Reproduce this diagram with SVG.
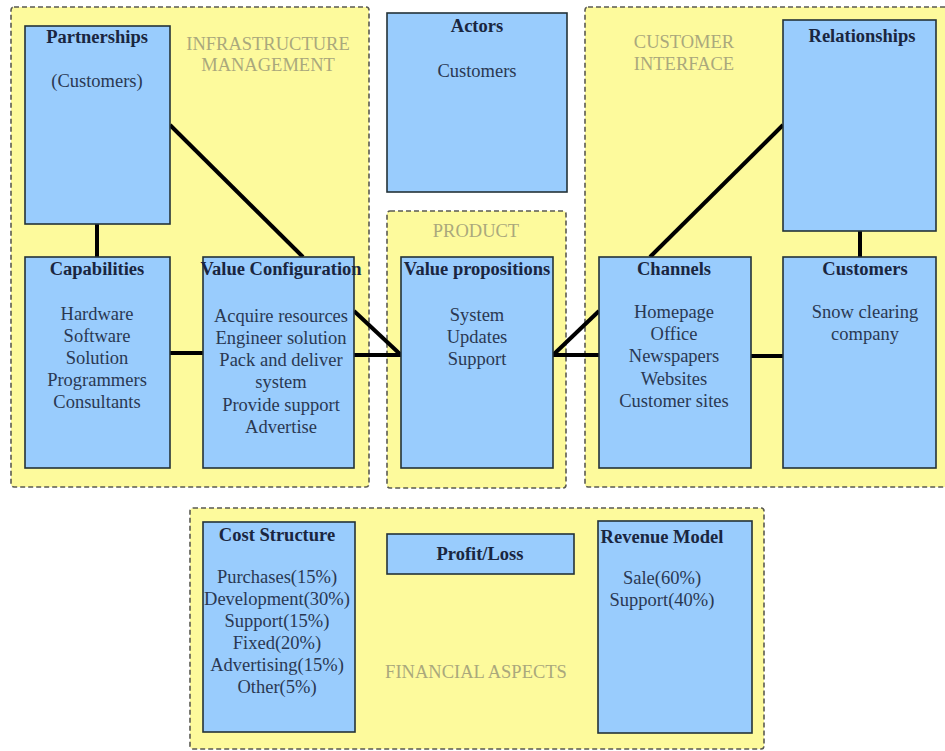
<svg xmlns="http://www.w3.org/2000/svg" width="945" height="751" viewBox="0 0 945 751">
  <style>
    .area { fill: #fdfa9c; stroke: #5a5a52; stroke-width: 1.6; stroke-dasharray: 5 3; }
    .box { fill: #99ccfd; stroke: #243238; stroke-width: 1.6; }
    .title { font-family: "Liberation Serif", "Times New Roman", serif; font-size: 18.5px; font-weight: bold; fill: #1a2640; text-anchor: middle; }
    .body { font-family: "Liberation Serif", "Times New Roman", serif; font-size: 18.5px; fill: #2a3852; text-anchor: middle; }
    .area-label { font-family: "Liberation Serif", "Times New Roman", serif; font-size: 18.5px; fill: #aaa87c; text-anchor: middle; }
    .link { stroke: #000; stroke-width: 4; fill: none; }
  </style>
  <rect width="945" height="751" fill="#ffffff"/>

  <!-- grouping areas -->
  <g id="infrastructure-management">
    <rect class="area" x="11" y="7" width="358" height="480" rx="3"/>
    <text class="area-label" x="268" y="50">INFRASTRUCTURE</text>
    <text class="area-label" x="268" y="71">MANAGEMENT</text>
  </g>
  <g id="product">
    <rect class="area" x="387" y="211" width="179" height="277" rx="3"/>
    <text class="area-label" x="476" y="237">PRODUCT</text>
  </g>
  <g id="customer-interface">
    <rect class="area" x="585" y="7" width="370" height="480" rx="3"/>
    <text class="area-label" x="684" y="48">CUSTOMER</text>
    <text class="area-label" x="684" y="70">INTERFACE</text>
  </g>
  <g id="financial-aspects">
    <rect class="area" x="190" y="508" width="574" height="241" rx="3"/>
    <text class="area-label" x="476" y="678">FINANCIAL ASPECTS</text>
  </g>

  <!-- connectors -->
  <g id="connectors">
    <line class="link" x1="97" y1="224" x2="97" y2="257"/>
    <line class="link" x1="170" y1="125" x2="303" y2="257"/>
    <line class="link" x1="170" y1="353" x2="203" y2="353"/>
    <line class="link" x1="354" y1="311" x2="401" y2="355"/>
    <line class="link" x1="354" y1="355" x2="401" y2="355"/>
    <line class="link" x1="553" y1="355" x2="599" y2="311"/>
    <line class="link" x1="553" y1="355" x2="599" y2="355"/>
    <line class="link" x1="650" y1="257" x2="783" y2="125"/>
    <line class="link" x1="860" y1="231" x2="860" y2="257"/>
    <line class="link" x1="751" y1="356" x2="783" y2="356"/>
  </g>

  <!-- nodes -->
  <g id="partnerships">
    <rect class="box" x="25" y="26" width="145" height="198"/>
    <text class="title" x="97" y="43">Partnerships</text>
    <text class="body" x="97" y="87">(Customers)</text>
  </g>
  <g id="actors">
    <rect class="box" x="387" y="13" width="180" height="179"/>
    <text class="title" x="477" y="32">Actors</text>
    <text class="body" x="477" y="77">Customers</text>
  </g>
  <g id="relationships">
    <rect class="box" x="783" y="20" width="153" height="211"/>
    <text class="title" x="862" y="42">Relationships</text>
  </g>
  <g id="capabilities">
    <rect class="box" x="25" y="257" width="145" height="211"/>
    <text class="title" x="97" y="275">Capabilities</text>
    <text class="body" x="97" y="320">Hardware</text>
    <text class="body" x="97" y="342">Software</text>
    <text class="body" x="97" y="364">Solution</text>
    <text class="body" x="97" y="386">Programmers</text>
    <text class="body" x="97" y="408">Consultants</text>
  </g>
  <g id="value-configuration">
    <rect class="box" x="203" y="257" width="151" height="211"/>
    <text class="title" x="281" y="275">Value Configuration</text>
    <text class="body" x="281" y="322">Acquire resources</text>
    <text class="body" x="281" y="344">Engineer solution</text>
    <text class="body" x="281" y="366">Pack and deliver</text>
    <text class="body" x="281" y="388">system</text>
    <text class="body" x="281" y="411">Provide support</text>
    <text class="body" x="281" y="433">Advertise</text>
  </g>
  <g id="value-propositions">
    <rect class="box" x="401" y="257" width="152" height="211"/>
    <text class="title" x="477" y="275">Value propositions</text>
    <text class="body" x="477" y="321">System</text>
    <text class="body" x="477" y="343">Updates</text>
    <text class="body" x="477" y="365">Support</text>
  </g>
  <g id="channels">
    <rect class="box" x="599" y="257" width="152" height="211"/>
    <text class="title" x="674" y="275">Channels</text>
    <text class="body" x="674" y="318">Homepage</text>
    <text class="body" x="674" y="340">Office</text>
    <text class="body" x="674" y="362">Newspapers</text>
    <text class="body" x="674" y="385">Websites</text>
    <text class="body" x="674" y="407">Customer sites</text>
  </g>
  <g id="customers">
    <rect class="box" x="783" y="257" width="153" height="211"/>
    <text class="title" x="865" y="275">Customers</text>
    <text class="body" x="865" y="318">Snow clearing</text>
    <text class="body" x="865" y="340">company</text>
  </g>
  <g id="cost-structure">
    <rect class="box" x="203" y="522" width="152" height="210"/>
    <text class="title" x="277" y="541">Cost Structure</text>
    <text class="body" x="277" y="583">Purchases(15%)</text>
    <text class="body" x="277" y="605">Development(30%)</text>
    <text class="body" x="277" y="627">Support(15%)</text>
    <text class="body" x="277" y="649">Fixed(20%)</text>
    <text class="body" x="277" y="671">Advertising(15%)</text>
    <text class="body" x="277" y="693">Other(5%)</text>
  </g>
  <g id="profit-loss">
    <rect class="box" x="387" y="534" width="187" height="40"/>
    <text class="title" x="480" y="560">Profit/Loss</text>
  </g>
  <g id="revenue-model">
    <rect class="box" x="598" y="521" width="154" height="212"/>
    <text class="title" x="662" y="543">Revenue Model</text>
    <text class="body" x="662" y="584">Sale(60%)</text>
    <text class="body" x="662" y="606">Support(40%)</text>
  </g>
</svg>
